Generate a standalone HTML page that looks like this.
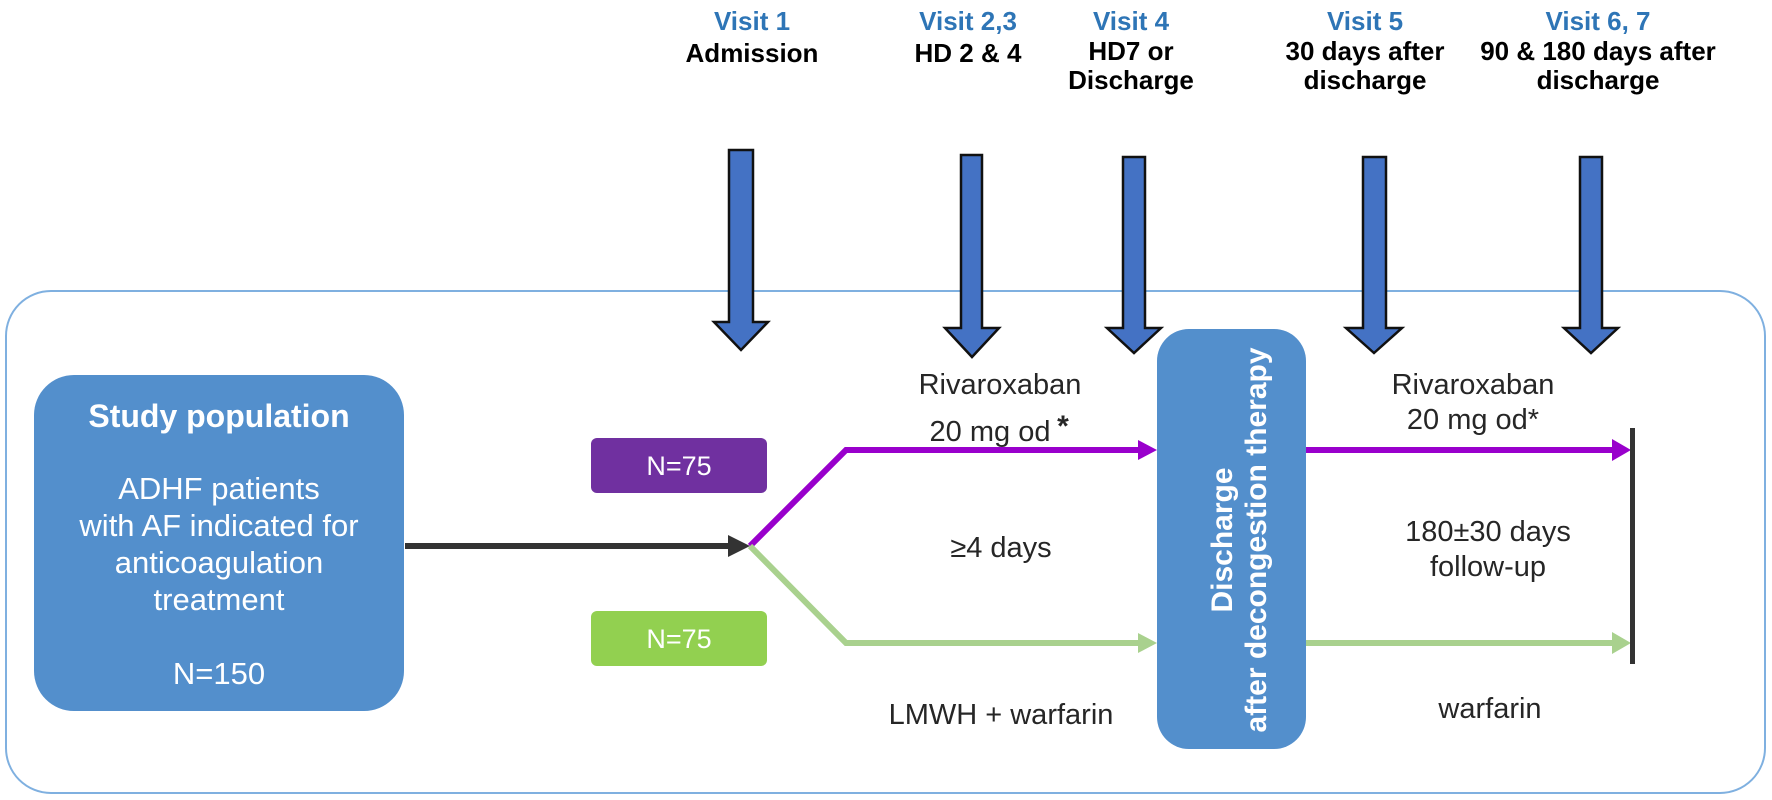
<!DOCTYPE html>
<html><head><meta charset="utf-8"><style>
html,body{margin:0;padding:0;background:#fff;}
svg{display:block;font-family:"Liberation Sans",Arial,sans-serif;}
</style></head><body>
<svg width="1772" height="800" viewBox="0 0 1772 800" xmlns="http://www.w3.org/2000/svg">
<!-- container -->
<rect x="6" y="291" width="1759" height="502" rx="45" ry="45" fill="none" stroke="#7fb0e0" stroke-width="2"/>

<!-- visit labels -->
<g font-weight="bold" text-anchor="middle" font-size="26">
<text x="752" y="30" fill="#2e75b6">Visit 1</text>
<text x="752" y="62" fill="#000">Admission</text>
<text x="968" y="30" fill="#2e75b6">Visit 2,3</text>
<text x="968" y="62" fill="#000">HD 2 &amp; 4</text>
<text x="1131" y="30" fill="#2e75b6">Visit 4</text>
<text x="1131" y="60" fill="#000">HD7 or</text>
<text x="1131" y="89" fill="#000">Discharge</text>
<text x="1365" y="30" fill="#2e75b6">Visit 5</text>
<text x="1365" y="60" fill="#000">30 days after</text>
<text x="1365" y="89" fill="#000">discharge</text>
<text x="1598" y="30" fill="#2e75b6">Visit 6, 7</text>
<text x="1598" y="60" fill="#000">90 &amp; 180 days after</text>
<text x="1598" y="89" fill="#000">discharge</text>
</g>

<!-- down arrows -->
<g fill="#4472c4" stroke="#111" stroke-width="2.5" stroke-linejoin="miter">
<path d="M729,150 L753,150 L753,322 L768,322 L741,350 L714,322 L729,322 Z"/>
<path d="M961,155 L982,155 L982,328 L999,328 L972,357 L945,328 L961,328 Z"/>
<path d="M1123,157 L1145,157 L1145,328 L1161,328 L1134,353 L1107,328 L1123,328 Z"/>
<path d="M1363,157 L1386,157 L1386,328 L1402,328 L1374,353 L1346,328 L1363,328 Z"/>
<path d="M1580,157 L1602,157 L1602,328 L1618,328 L1591,353 L1564,328 L1580,328 Z"/>
</g>

<!-- study box -->
<rect x="34" y="375" width="370" height="336" rx="40" ry="40" fill="#538fcc"/>
<g fill="#fff" text-anchor="middle" font-size="31">
<text x="219" y="427" font-weight="bold" font-size="32">Study population</text>
<text x="219" y="499">ADHF patients</text>
<text x="219" y="536">with AF indicated for</text>
<text x="219" y="573">anticoagulation</text>
<text x="219" y="610">treatment</text>
<text x="219" y="684">N=150</text>
</g>

<!-- black arrow -->
<line x1="405" y1="546" x2="735" y2="546" stroke="#333" stroke-width="6"/>
<path d="M728,535 L750,546 L728,557 Z" fill="#333"/>

<!-- N boxes -->
<rect x="591" y="438" width="176" height="55" rx="6" fill="#7030a0"/>
<text x="679" y="475" fill="#fff" font-size="27" text-anchor="middle">N=75</text>
<rect x="591" y="611" width="176" height="55" rx="6" fill="#92d050"/>
<text x="679" y="648" fill="#fff" font-size="27" text-anchor="middle">N=75</text>

<!-- branches -->
<polyline points="750,546 846,450 1143,450" fill="none" stroke="#9900cc" stroke-width="6"/>
<path d="M1138,440 L1157,450 L1138,460 Z" fill="#9900cc"/>
<polyline points="750,546 846,643 1143,643" fill="none" stroke="#a9d18e" stroke-width="6"/>
<path d="M1138,633 L1157,643 L1138,653 Z" fill="#a9d18e"/>

<line x1="1306" y1="450" x2="1616" y2="450" stroke="#9900cc" stroke-width="6"/>
<path d="M1612,439 L1631,450 L1612,461 Z" fill="#9900cc"/>
<line x1="1306" y1="643" x2="1616" y2="643" stroke="#a9d18e" stroke-width="6"/>
<path d="M1612,632 L1631,643 L1612,654 Z" fill="#a9d18e"/>
<rect x="1630" y="428" width="5" height="236" fill="#333"/>

<!-- discharge box -->
<rect x="1157" y="329" width="149" height="420" rx="32" ry="32" fill="#538fcc"/>
<g fill="#fff" font-weight="bold" font-size="30" text-anchor="middle" transform="translate(1222,540) rotate(-90)">
<text x="0" y="10">Discharge</text>
<text x="0" y="44">after decongestion therapy</text>
</g>

<!-- labels -->
<g fill="#262626" font-size="29" text-anchor="middle">
<text x="1000" y="394">Rivaroxaban</text>
<text x="990" y="441">20 mg od</text>
<text x="1063" y="436" font-size="30" font-weight="bold">*</text>
<text x="1001" y="557">≥4 days</text>
<text x="1001" y="724">LMWH + warfarin</text>
<text x="1473" y="394">Rivaroxaban</text>
<text x="1473" y="429">20 mg od*</text>
<text x="1488" y="541">180±30 days</text>
<text x="1488" y="576">follow-up</text>
<text x="1490" y="718">warfarin</text>
</g>
</svg>
</body></html>
